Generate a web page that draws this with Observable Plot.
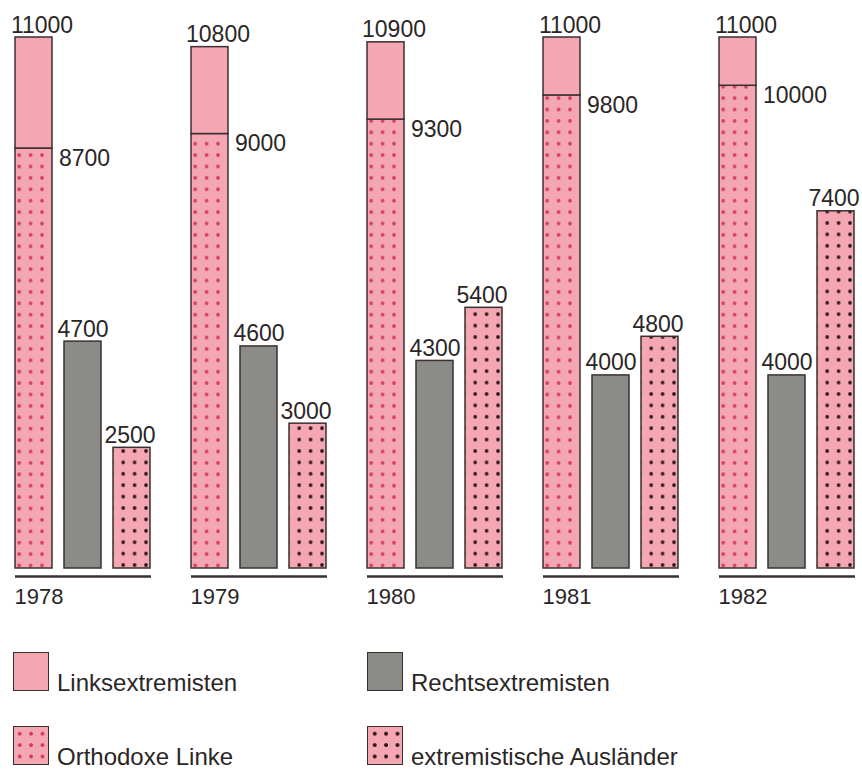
<!DOCTYPE html>
<html><head><meta charset="utf-8">
<script src="https://cdn.jsdelivr.net/npm/d3@7"></script>
<script src="https://cdn.jsdelivr.net/npm/@observablehq/plot@0.6"></script>
<style>
body{margin:0;background:#fff;font-family:"Liberation Sans",Arial,sans-serif;color:#2a2626;overflow:hidden}
#chart svg{display:block}
#legend{position:relative;height:144px;width:862px}
.item{position:absolute;display:flex;align-items:flex-end}
.sw{width:34px;height:37px;border:1.5px solid #3a3030}
.lab{font-size:24px;margin-left:8px;line-height:0.8;margin-bottom:-1px;white-space:nowrap}
</style></head><body>
<div id="chart"></div>
<div id="legend"></div>
<script>
// ---- data ----
const years = [1978, 1979, 1980, 1981, 1982];
const linksTotal = [11000, 10800, 10900, 11000, 11000];     // top of stacked bar (Linksextremisten incl. Orthodoxe Linke)
const orthodoxeLinke = [8700, 9000, 9300, 9800, 10000];     // lower part of stacked bar
const rechtsextremisten = [4700, 4600, 4300, 4000, 4000];
const auslaender = [2500, 3000, 5400, 4800, 7400];
const seriesNames = ["Linksextremisten", "Rechtsextremisten", "Orthodoxe Linke", "extremistische Ausländer"];

const C = {pink: "#f4a6b2", gray: "#8b8b87", dotRed: "#d63a58", dotBlack: "#2b1515", stroke: "#3a3030", text: "#2a2626"};

const rows = years.map((y, i) => ({year: y, total: linksTotal[i], ortho: orthodoxeLinke[i], rechts: rechtsextremisten[i], ausl: auslaender[i]}));

const fs = 23;
const plot = Plot.plot({
  width: 862, height: 625,
  marginTop: 37, marginBottom: 57, marginLeft: 13, marginRight: 6,
  fx: {domain: years, paddingInner: 0.23, paddingOuter: 0, axis: null, label: null},
  x: {domain: ["L", "R", "A"], paddingInner: 0.24, paddingOuter: 0, axis: null},
  y: {domain: [0, 11000], axis: null},
  style: {fontFamily: "'Liberation Sans', Arial, sans-serif", background: "transparent", color: C.text},
  marks: [
    Plot.barY(rows, {fx: "year", x: () => "L", y1: () => 0, y2: "ortho", fill: "url(#pOrtho)", stroke: C.stroke, strokeWidth: 1.5, ariaLabel: "ortho"}),
    Plot.barY(rows, {fx: "year", x: () => "L", y1: "ortho", y2: "total", fill: C.pink, stroke: C.stroke, strokeWidth: 1.5}),
    Plot.barY(rows, {fx: "year", x: () => "R", y1: () => 0, y2: "rechts", fill: C.gray, stroke: C.stroke, strokeWidth: 1.5}),
    Plot.barY(rows, {fx: "year", x: () => "A", y1: () => 0, y2: "ausl", fill: "url(#pAusl)", stroke: C.stroke, strokeWidth: 1.5, ariaLabel: "ausl"}),
    Plot.ruleY(rows, {fx: "year", y: () => 0, dy: 8, stroke: C.stroke, strokeWidth: 2.5}),
    Plot.text(rows, {fx: "year", x: () => "L", y: "total", text: d => String(d.total), lineAnchor: "bottom", dy: -5, dx: 8, fontSize: fs, fill: C.text}),
    Plot.text(rows, {fx: "year", x: () => "L", y: "ortho", text: d => String(d.ortho), textAnchor: "start", lineAnchor: "top", dx: 25, dy: 1, fontSize: fs, fill: C.text}),
    Plot.text(rows, {fx: "year", x: () => "R", y: "rechts", text: d => String(d.rechts), lineAnchor: "bottom", dy: -5, fontSize: fs, fill: C.text}),
    Plot.text(rows, {fx: "year", x: () => "A", y: "ausl", text: d => String(d.ausl), lineAnchor: "bottom", dy: -5, dx: -2, fontSize: fs, fill: C.text}),
    Plot.text(rows, {fx: "year", text: d => String(d.year), frameAnchor: "bottom-left", textAnchor: "start", lineAnchor: "middle", dy: 28, dx: -1, fontSize: 22, fill: C.text})
  ]
});
document.getElementById("chart").appendChild(plot);

// ---- dot patterns aligned to the bars ----
const NS = "http://www.w3.org/2000/svg";
const defs = document.createElementNS(NS, "defs");
plot.insertBefore(defs, plot.firstChild);
function addPattern(id, label, dotColor, r, offX, offB) {
  const tile = 11.4;
  const rect = plot.querySelector(`g[aria-label="${label}"] rect`);
  let bx = 0, bb = 0;
  if (rect) { bx = +rect.getAttribute("x") || 0; bb = (+rect.getAttribute("y") || 0) + (+rect.getAttribute("height") || 0); }
  const p = document.createElementNS(NS, "pattern");
  p.setAttribute("id", id);
  p.setAttribute("patternUnits", "userSpaceOnUse");
  p.setAttribute("width", tile); p.setAttribute("height", tile);
  p.setAttribute("x", bx + offX - tile / 2);
  p.setAttribute("y", bb - offB - tile / 2);
  const bg = document.createElementNS(NS, "rect");
  bg.setAttribute("width", tile); bg.setAttribute("height", tile); bg.setAttribute("fill", C.pink);
  const c = document.createElementNS(NS, "circle");
  c.setAttribute("cx", tile / 2); c.setAttribute("cy", tile / 2); c.setAttribute("r", r); c.setAttribute("fill", dotColor);
  p.appendChild(bg); p.appendChild(c); defs.appendChild(p);
}
addPattern("pOrtho", "ortho", C.dotRed, 1.8, 5.8, 4.5);
addPattern("pAusl", "ausl", C.dotBlack, 1.8, 7.2, 5);

// ---- legend ----
const lg = document.getElementById("legend");
const swatchStyles = {
  "Linksextremisten": `background:${C.pink}`,
  "Rechtsextremisten": `background:${C.gray}`,
  "Orthodoxe Linke": `background-color:${C.pink};background-image:radial-gradient(circle, ${C.dotRed} 1.6px, transparent 2.1px);background-size:11.4px 11.4px;background-position:0 1px`,
  "extremistische Ausländer": `background-color:${C.pink};background-image:radial-gradient(circle, ${C.dotBlack} 1.6px, transparent 2.2px);background-size:11.4px 11.4px;background-position:1px 1px`
};
const legendPos = [[13, 27], [367, 27], [13, 101], [367, 101]];
seriesNames.forEach((name, i) => {
  const it = document.createElement("div");
  it.className = "item";
  it.style.left = legendPos[i][0] + "px";
  it.style.top = legendPos[i][1] + "px";
  it.innerHTML = `<div class="sw" style="${swatchStyles[name]}"></div><div class="lab">${name}</div>`;
  lg.appendChild(it);
});
</script>
</body></html>
